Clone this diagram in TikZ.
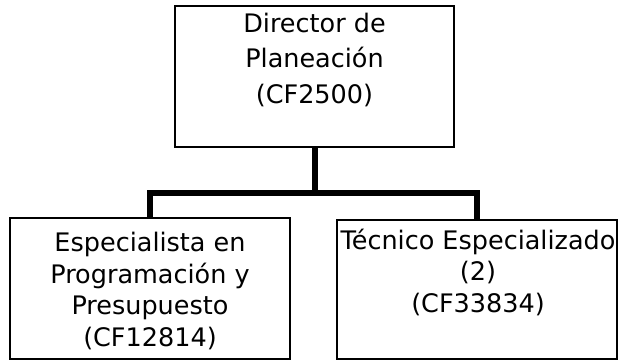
\documentclass[tikz,border=0pt]{standalone}
\usepackage{fontspec}
\setmainfont{DejaVu Sans}
\begin{document}
\begin{tikzpicture}[x=1pt,y=-1pt,
  box/.style={draw, line width=2.5pt, inner sep=0pt},
  txt/.style={align=center, inner sep=0pt, anchor=base},
  conn/.style={line width=6pt, line join=miter}]
\useasboundingbox (0,0) rectangle (619,360);
\node[box, minimum width=279pt, minimum height=141pt] (dir) at (314.5,76.5) {};
\node[box, minimum width=280pt, minimum height=141pt] (esp) at (150,288.5) {};
\node[box, minimum width=280pt, minimum height=139pt] (tec) at (477,289.5) {};
\node[txt, font=\fontsize{25.5}{35.5}\selectfont] (dirt) at (314.5,103) {Director de\\Planeación\\(CF2500)};
\node[txt, font=\fontsize{25.5}{31.5}\selectfont] (espt) at (150,346) {Especialista en\\Programación y\\Presupuesto\\(CF12814)};
\node[txt, font=\fontsize{25.5}{31.5}\selectfont] (tect) at (478,312) {Técnico Especializado\\(2)\\(CF33834)};
\coordinate (bus) at (314.5,193);
\draw[conn] (dir.south) -- (bus);
\draw[conn] (esp.north) |- (bus) -| (tec.north);
\end{tikzpicture}
\end{document}
